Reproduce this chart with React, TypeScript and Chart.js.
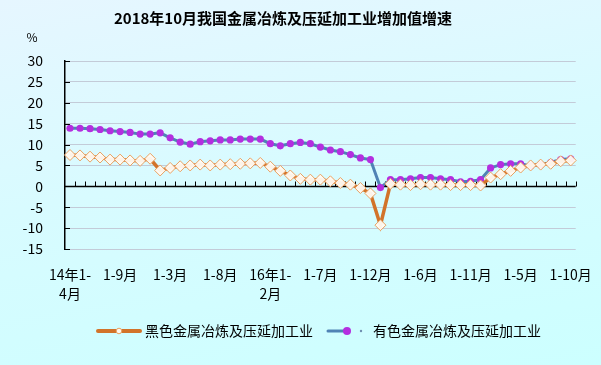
import React, { useEffect, useRef } from "react";
import { Chart, registerables } from "chart.js";

Chart.register(...registerables);

const chartTitle = "2018年10月我国金属冶炼及压延加工业增加值增速";
const unitLabel = "%";

const categories = [
  "2014年1-4月", "2014年1-5月", "2014年1-6月", "2014年1-7月", "2014年1-8月", "2014年1-9月", "2014年1-10月", "2014年1-11月", "2014年1-12月",
  "2015年1-2月", "2015年1-3月", "2015年1-4月", "2015年1-5月", "2015年1-6月", "2015年1-7月", "2015年1-8月", "2015年1-9月", "2015年1-10月", "2015年1-11月", "2015年1-12月",
  "2016年1-2月", "2016年1-3月", "2016年1-4月", "2016年1-5月", "2016年1-6月", "2016年1-7月", "2016年1-8月", "2016年1-9月", "2016年1-10月", "2016年1-11月", "2016年1-12月",
  "2017年1-2月", "2017年1-3月", "2017年1-4月", "2017年1-5月", "2017年1-6月", "2017年1-7月", "2017年1-8月", "2017年1-9月", "2017年1-10月", "2017年1-11月", "2017年1-12月",
  "2018年1-2月", "2018年1-3月", "2018年1-4月", "2018年1-5月", "2018年1-6月", "2018年1-7月", "2018年1-8月", "2018年1-9月", "2018年1-10月",
];

const xTickLabels = [
  ["14年1-", "4月"], "1-9月", "1-3月", "1-8月", ["16年1-", "2月"], "1-7月", "1-12月", "1-6月", "1-11月", "1-5月", "1-10月",
];
const xTickEvery = 5;

const ferrousName = "黑色金属冶炼及压延加工业";
const ferrous = [
  7.5, 7.4, 7.1, 6.9, 6.4, 6.4, 6.2, 6.1, 6.6,
  3.8, 4.4, 4.8, 5.0, 5.2, 5.0, 5.2, 5.3, 5.4, 5.5, 5.6,
  4.7, 3.7, 2.6, 1.8, 1.6, 1.6, 1.2, 0.8, 0.4, -0.4, -1.7,
  -9.3, 0.6, 0.4, 0.3, 0.5, 0.4, 0.4, 0.3, 0.3, 0.3, 0.2,
  2.1, 2.9, 3.7, 4.5, 5.0, 5.2, 5.4, 6.0, 6.2,
];

const nonFerrousName = "有色金属冶炼及压延加工业";
const nonFerrous = [
  13.9, 13.9, 13.8, 13.6, 13.3, 13.1, 12.9, 12.5, 12.5,
  12.8, 11.6, 10.6, 10.1, 10.7, 10.9, 11.1, 11.1, 11.3, 11.3, 11.3,
  10.2, 9.7, 10.2, 10.5, 10.2, 9.4, 8.7, 8.3, 7.6, 6.8, 6.4,
  -0.3, 1.6, 1.6, 1.8, 2.1, 2.1, 1.8, 1.6, 1.1, 1.2, 1.6,
  4.4, 5.2, 5.4, 5.4, 4.9, 5.2, 5.7, 6.4, 6.6,
];

const yMin = -15;
const yMax = 30;
const yStep = 5;

const FONT = "'Noto Sans CJK SC', 'Noto Sans', sans-serif";
const ORANGE = "#d2732a";
const BLUE = "#4f83b5";
const PURPLE = "#b42ee0";

const decorPlugin = {
  id: "decor",
  beforeDatasetsDraw(chart: any) {
    const { ctx, chartArea } = chart;
    const y = chart.scales.y;
    ctx.save();
    ctx.strokeStyle = "#000";
    ctx.lineWidth = 1;
    for (let v = yMin; v <= yMax; v += yStep) {
      const py = Math.round(y.getPixelForValue(v)) + 0.5;
      ctx.beginPath();
      ctx.moveTo(chartArea.left, py);
      ctx.lineTo(chartArea.left + 5, py);
      ctx.stroke();
    }
    const zy = Math.round(y.getPixelForValue(0)) + 0.5;
    ctx.lineWidth = 1.5;
    ctx.beginPath();
    ctx.moveTo(chartArea.left, zy);
    ctx.lineTo(chartArea.right, zy);
    ctx.stroke();
    ctx.lineWidth = 1;
    const n = categories.length;
    const w = (chartArea.right - chartArea.left) / n;
    for (let k = 1; k <= n; k++) {
      const px = Math.round(chartArea.left + k * w) + 0.5;
      ctx.beginPath();
      ctx.moveTo(px, zy);
      ctx.lineTo(px, zy - 5);
      ctx.stroke();
    }
    ctx.restore();
  },
  afterDraw(chart: any) {
    const { ctx } = chart;
    ctx.save();
    ctx.fillStyle = "#000";
    ctx.textBaseline = "middle";
    ctx.textAlign = "center";
    ctx.font = `bold 15px ${FONT}`;
    ctx.fillText(chartTitle, 283, 18);
    ctx.font = `12px ${FONT}`;
    ctx.fillText(unitLabel, 32, 37);

    const ly = 331;
    ctx.lineCap = "round";
    ctx.strokeStyle = ORANGE;
    ctx.lineWidth = 4;
    ctx.beginPath();
    ctx.moveTo(98, ly);
    ctx.lineTo(140, ly);
    ctx.stroke();
    ctx.fillStyle = "#fff8ee";
    ctx.strokeStyle = "#e8a060";
    ctx.lineWidth = 1;
    ctx.beginPath();
    ctx.arc(119, ly, 2.8, 0, Math.PI * 2);
    ctx.fill();
    ctx.stroke();

    ctx.strokeStyle = BLUE;
    ctx.lineWidth = 3;
    ctx.beginPath();
    ctx.moveTo(328, ly);
    ctx.lineTo(346, ly);
    ctx.stroke();
    ctx.fillStyle = PURPLE;
    ctx.beginPath();
    ctx.arc(347, ly, 4, 0, Math.PI * 2);
    ctx.fill();
    ctx.fillStyle = "#6f8fb0";
    ctx.beginPath();
    ctx.arc(361, ly, 1.2, 0, Math.PI * 2);
    ctx.fill();

    ctx.fillStyle = "#000";
    ctx.textAlign = "left";
    ctx.font = `14px ${FONT}`;
    ctx.fillText(ferrousName, 145, ly);
    ctx.fillText(nonFerrousName, 373, ly);
    ctx.restore();
  },
};

export default function App() {
  const canvasRef = useRef<HTMLCanvasElement | null>(null);

  useEffect(() => {
    const canvas = canvasRef.current;
    if (!canvas) return;
    const chart = new Chart(canvas, {
      type: "line",
      data: {
        labels: categories,
        datasets: [
          {
            label: ferrousName,
            data: ferrous,
            borderColor: ORANGE,
            borderWidth: 3.5,
            pointStyle: "rectRot",
            pointRadius: 5.5,
            pointBackgroundColor: "rgba(255,250,242,0.95)",
            pointBorderColor: "#e8a060",
            pointBorderWidth: 1,
            tension: 0,
          },
          {
            label: nonFerrousName,
            data: nonFerrous,
            borderColor: BLUE,
            borderWidth: 3,
            pointStyle: "circle",
            pointRadius: 3.6,
            pointBackgroundColor: PURPLE,
            pointBorderColor: PURPLE,
            pointBorderWidth: 0,
            tension: 0,
          },
        ],
      },
      options: {
        responsive: false,
        animation: false,
        devicePixelRatio: 1,
        layout: { padding: { top: 61, right: 22, bottom: 0, left: 0 } },
        plugins: {
          legend: { display: false },
          title: { display: false },
          tooltip: { enabled: false },
        },
        scales: {
          x: {
            offset: true,
            grid: { display: false, offset: true },
            border: { display: false },
            ticks: {
              autoSkip: false,
              maxRotation: 0,
              minRotation: 0,
              padding: 9,
              color: "#000",
              font: { family: FONT, size: 14, lineHeight: 1.3 },
              callback: (_v: any, i: number) =>
                i % xTickEvery === 0 ? xTickLabels[i / xTickEvery] : "",
            },
            afterFit: (s: any) => {
              s.height = 116;
            },
          },
          y: {
            min: yMin,
            max: yMax,
            ticks: {
              stepSize: yStep,
              padding: 22,
              color: "#000",
              font: { family: FONT, size: 14 },
            },
            grid: { color: "#c3cbd8", drawTicks: false, lineWidth: 1 },
            border: { display: true, color: "#000", width: 1.5 },
            afterFit: (s: any) => {
              s.width = 65;
            },
          },
        },
      },
      plugins: [decorPlugin],
    });
    return () => chart.destroy();
  }, []);

  return (
    <div
      style={{
        position: "fixed",
        left: 0,
        top: 0,
        width: 601,
        height: 365,
        background: "linear-gradient(170deg, #e6f6ff 0%, #d8fbff 45%, #ccffff 100%)",
      }}
    >
      <canvas ref={canvasRef} width={601} height={365} style={{ display: "block" }} />
    </div>
  );
}
